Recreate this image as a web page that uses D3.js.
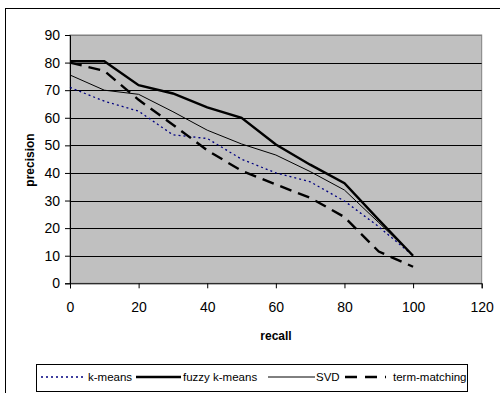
<!DOCTYPE html>
<html>
<head>
<meta charset="utf-8">
<script src="https://cdn.jsdelivr.net/npm/d3@7"></script>
<style>
  body { margin: 0; background: #fff; }
  text { font-family: "Liberation Sans", Arial, sans-serif; }
</style>
</head>
<body>
<div id="chart"></div>
<script>
var recall = [0, 10, 20, 30, 40, 50, 60, 70, 80, 90, 100];
var kmeans = [71, 66, 62.4, 53.8, 52.5, 45, 40, 36.8, 29.8, 20.5, 10];
var fuzzy = [80.5, 80.5, 71.8, 68.8, 63.8, 60, 50.3, 43, 36.3, 23, 10];
var svd = [75.5, 70, 68.5, 62.2, 55.5, 50.5, 46.5, 40.5, 33.8, 22, 10];
var term = [80, 77, 66.5, 57.5, 48.2, 40.8, 35.8, 31, 24, 11.5, 6];
var xTicks = [0, 20, 40, 60, 80, 100, 120];
var yTicks = [0, 10, 20, 30, 40, 50, 60, 70, 80, 90];

var series = [
    { name: "k-means", values: kmeans, color: "#000080", width: 1.3, dash: "2,3" },
    { name: "fuzzy k-means", values: fuzzy, color: "#000", width: 2.4, dash: null },
    { name: "SVD", values: svd, color: "#000", width: 1, dash: null },
    { name: "term-matching", values: term, color: "#000", width: 2.4, dash: "12,7" }
];

var svg = d3.select("#chart")
    .append("svg")
    .attr("width", 500)
    .attr("height", 393)

// outer chart border
svg.append("rect")
    .attr("x", 5.5)
    .attr("y", 8.5)
    .attr("width", 500)
    .attr("height", 400)
    .attr("fill", "#fff")
    .attr("stroke", "#000")
    .attr("stroke-width", 1)

var x = d3.scaleLinear().domain([0, 120]).range([70, 481.7]);
var y = d3.scaleLinear().domain([0, 90]).range([283.3, 35]);

// plot area
svg.append("rect")
    .attr("x", x(0))
    .attr("y", y(90))
    .attr("width", x(120) - x(0))
    .attr("height", y(0) - y(90))
    .attr("fill", "#c0c0c0")
    .attr("stroke", "#808080")
    .attr("stroke-width", 1)

// gridlines
yTicks.slice(1).forEach(function (t) {
    svg.append("line")
        .attr("x1", x(0))
        .attr("x2", x(120))
        .attr("y1", Math.round(y(t)) + 0.5)
        .attr("y2", Math.round(y(t)) + 0.5)
        .style("stroke", t == 90 ? "#808080" : "#000")
        .style("stroke-width", 1)
})

var yAxis = svg.append("g")
    .attr("transform", "translate(" + x(0) + ",0)")
    .call(d3.axisLeft(y).tickValues(yTicks).tickSize(5).tickPadding(5))
var xAxis = svg.append("g")
    .attr("transform", "translate(0," + y(0) + ")")
    .call(d3.axisBottom(x).tickValues(xTicks).tickSize(5).tickPadding(14))

svg.selectAll(".domain").style("stroke", "#000")
svg.selectAll(".tick line").style("stroke", "#000")
svg.selectAll(".tick text")
    .style("font-size", "14px")
    .attr("font-family", "'Liberation Sans', Arial, sans-serif")
    .attr("fill", "#000")

var line = d3.line()
    .x(function (d, i) { return x(recall[i]); })
    .y(function (d) { return y(d); })

series.forEach(function (s) {
    svg.append("path")
        .datum(s.values)
        .attr("d", line)
        .attr("fill", "none")
        .style("stroke", s.color)
        .style("stroke-width", s.width)
        .style("stroke-dasharray", s.dash)
})

svg.append("text")
    .attr("transform", "translate(34,160) rotate(-90)")
    .attr("text-anchor", "middle")
    .text("precision")
    .style("font-size", "12px")
    .style("font-weight", "bold")

svg.append("text")
    .attr("x", 276)
    .attr("y", 340)
    .attr("text-anchor", "middle")
    .text("recall")
    .style("font-size", "12px")
    .style("font-weight", "bold")

// legend
svg.append("rect")
    .attr("x", 36.5)
    .attr("y", 364.5)
    .attr("width", 431)
    .attr("height", 27)
    .attr("fill", "#fff")
    .attr("stroke", "#000")
    .attr("stroke-width", 1)

var legendPos = [[41, 84, 88], [136, 181, 183], [268, 315, 316], [345, 386, 393]];
series.forEach(function (s, i) {
    var p = legendPos[i];
    svg.append("line")
        .attr("x1", p[0])
        .attr("x2", p[1])
        .attr("y1", 377)
        .attr("y2", 377)
        .style("stroke", s.color)
        .style("stroke-width", s.width)
        .style("stroke-dasharray", s.name == "term-matching" ? "12,8" : s.dash)
    svg.append("text")
        .attr("x", p[2])
        .attr("y", 381)
        .text(s.name)
        .style("font-size", "11.5px")
        .attr("fill", "#000")
})
</script>
</body>
</html>
